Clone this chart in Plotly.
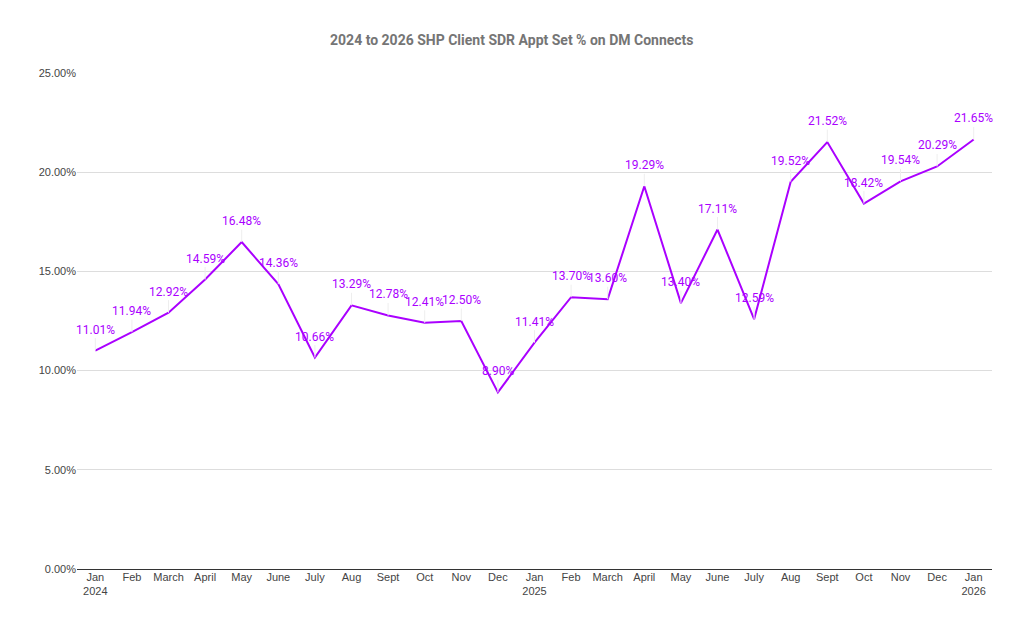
import plotly.graph_objects as go

months = ["Jan", "Feb", "March", "April", "May", "June", "July", "Aug", "Sept", "Oct", "Nov", "Dec",
          "Jan", "Feb", "March", "April", "May", "June", "July", "Aug", "Sept", "Oct", "Nov", "Dec",
          "Jan"]
years = ["2024", "", "", "", "", "", "", "", "", "", "", "",
         "2025", "", "", "", "", "", "", "", "", "", "", "",
         "2026"]
appt_pct = [11.01, 11.94, 12.92, 14.59, 16.48, 14.36, 10.66, 13.29, 12.78, 12.41, 12.50, 8.90,
            11.41, 13.70, 13.60, 19.29, 13.40, 17.11, 12.59, 19.52, 21.52, 18.42, 19.54, 20.29,
            21.65]

purple = "#aa00ff"
x = list(range(len(appt_pct)))
ticktext = [m + ("<br>" + y if y else "") for m, y in zip(months, years)]

fig = go.Figure()
fig.add_scatter(x=x, y=appt_pct, mode="lines", line=dict(color=purple, width=2),
                hoverinfo="skip")

# value labels sit above each point with a faint leader line
for i, v in enumerate(appt_pct):
    fig.add_annotation(x=i, y=v, text=f"{v:.2f}%", showarrow=True, arrowhead=0,
                       arrowwidth=1, arrowcolor="#eeeeee", ax=0, ay=-21, standoff=0,
                       font=dict(family="Roboto", size=12, color=purple))

fig.update_layout(
    title=dict(text="<b>2024 to 2026 SHP Client SDR Appt Set % on DM Connects</b>",
               x=0.492, xanchor="center", y=0.949, yanchor="middle",
               font=dict(family="Roboto", size=14, color="#757575")),
    width=1024, height=633,
    margin=dict(l=69, r=40, t=65, b=72),
    plot_bgcolor="white", paper_bgcolor="white",
    showlegend=False,
    font=dict(family="Liberation Sans", size=11, color="#444444"),
)
fig.update_xaxes(tickvals=x, ticktext=ticktext, range=[-0.5, len(x) - 0.5],
                 showgrid=False, showline=False, ticks="", zeroline=False,
                 tickfont=dict(family="Liberation Sans", size=11, color="#444444"))
fig.update_yaxes(range=[0, 25], tickvals=[0, 5, 10, 15, 20, 25],
                 ticktext=["0.00%", "5.00%", "10.00%", "15.00%", "20.00%", "25.00%"],
                 showgrid=True, gridcolor="#dddddd", gridwidth=1,
                 zeroline=True, zerolinecolor="#333333", zerolinewidth=1,
                 ticks="", ticklen=0,
                 tickfont=dict(family="Liberation Sans", size=11, color="#444444"))

fig.write_html("out.html")
